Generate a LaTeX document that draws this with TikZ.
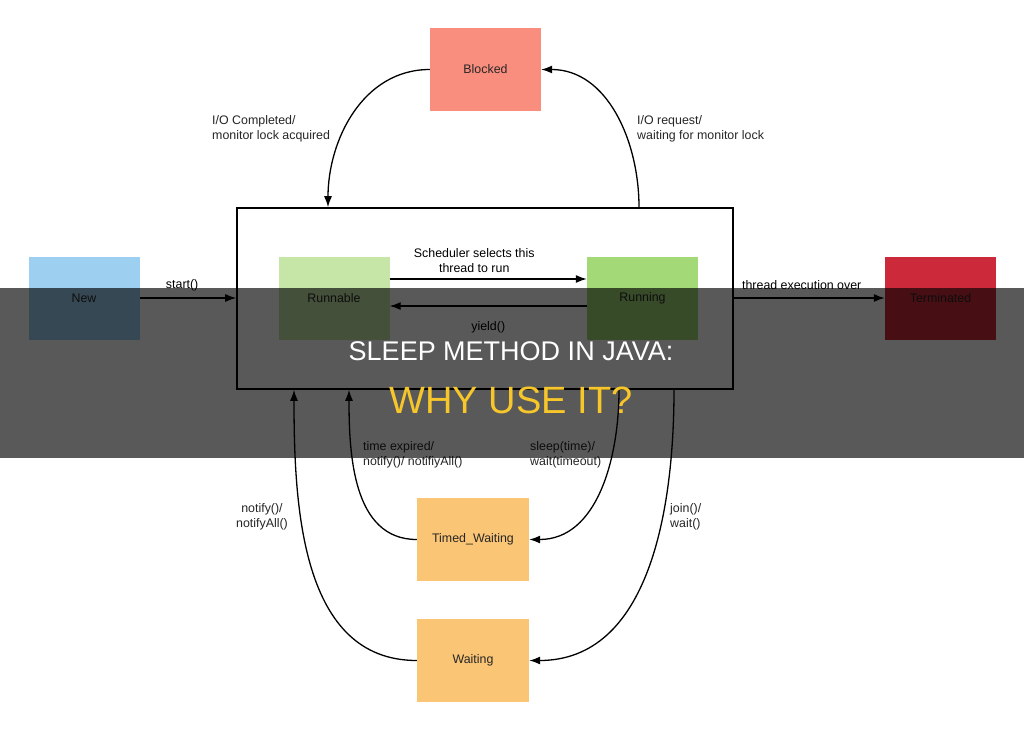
\documentclass[tikz,border=0pt]{standalone}
\usepackage{fontspec}
\setmainfont{Liberation Sans}
\usepackage{tikz}
\usetikzlibrary{shapes, arrows, arrows.meta, positioning}
\usepackage{xcolor}
\definecolor{newblue}{HTML}{9DD0F0}
\definecolor{runnablegreen}{HTML}{C6E6A8}
\definecolor{runninggreen}{HTML}{A3D977}
\definecolor{termred}{HTML}{CC2A3A}
\definecolor{blockedred}{HTML}{FA8E7E}
\definecolor{waitorange}{HTML}{FBC576}
\definecolor{titleyellow}{HTML}{F6C62B}

\begin{document}
\begin{tikzpicture}[x=1pt, y=1pt, font=\fontsize{12.4}{15}\selectfont,
        state/.style={minimum width=111pt, minimum height=83pt, inner sep=0pt, text=black!85},
        arr/.style={-{Latex[length=11pt, width=8pt]}, line width=1.3pt},
        lbl/.style={align=left, inner sep=0pt, text=black!85}]
        \fill[white] (0,0) rectangle (1024,-730);
        \useasboundingbox (0,0) rectangle (1024,-730);
        % states
        \node[state, fill=blockedred] (blocked) at (485.5,-69.5) {Blocked};
        \node[draw, line width=1.6pt, minimum width=496pt, minimum height=181pt] (alive) at (485,-298.5) {};
        \node[state, fill=newblue] (new) at (84,-298) {New};
        \node[state, fill=runnablegreen] (runnable) at (334,-298) {Runnable};
        \node[state, fill=runninggreen] (running) at (642.5,-298) {Running};
        \node[state, fill=termred] (term) at (940.5,-298) {Terminated};
        \node[state, fill=waitorange, minimum width=112pt] (timed) at (473,-539.5) {Timed\_Waiting};
        \node[state, fill=waitorange, minimum width=112pt] (waiting) at (473,-660.5) {Waiting};
        % ends of the curves on the big box
        \coordinate (topL) at ([xshift=-157pt]alive.north);
        \coordinate (topR) at ([xshift=154pt]alive.north);
        \coordinate (botA) at ([xshift=-191pt]alive.south);
        \coordinate (botB) at ([xshift=-136pt]alive.south);
        \coordinate (botC) at ([xshift=134pt]alive.south);
        \coordinate (botD) at ([xshift=189pt]alive.south);
        % straight transitions
        \draw[arr] (new.east) -- node[above=3pt, pos=0.44] {start()} (alive.west |- new.east);
        \draw[arr] (alive.east |- term.west) -- node[above=4pt, pos=0.45] {thread execution over} (term.west);
        \draw[arr] ([yshift=19pt]runnable.east) -- node[above=2pt, align=center, xshift=-14pt] {Scheduler selects this\\thread to run} ([yshift=19pt]running.west);
        \draw[arr] ([yshift=-8pt]running.west) -- node[below=12pt] {yield()} ([yshift=-8pt]runnable.east);
        % curved transitions
        \draw[arr] (blocked.west) to[out=180, in=90] (topL);
        \draw[arr] (topR) to[out=90, in=0] (blocked.east);
        \draw[arr] (timed.west) to[out=180, in=-90] (botB);
        \draw[arr] (botC) to[out=-90, in=0] (timed.east);
        \draw[arr] (waiting.west) to[out=180, in=-90] (botA);
        \draw[arr] (botD) to[out=-90, in=0] (waiting.east);
        \node[lbl, anchor=west] (iodone) at (212,-128.5) {I/O Completed/\\monitor lock acquired};
        \node[lbl, anchor=west] (ioreq) at (637,-128.5) {I/O request/\\waiting for monitor lock};
        \node[lbl, anchor=west] (expired) at (363,-454.5) {time expired/\\notify()/ notifiyAll()};
        \node[lbl, anchor=west] (sleep) at (530,-454.5) {sleep(time)/\\wait(timeout)};
        \node[lbl, align=center] (notify) at (262,-517) {notify()/\\notifyAll()};
        \node[lbl, anchor=west] (join) at (670,-517) {join()/\\wait()};
        % title band
        \fill[black, opacity=0.65] (0,-288) rectangle (1024,-458);
        \node[text=white, font=\fontsize{27}{30}\selectfont] (title) at (511,-351) {SLEEP METHOD IN JAVA:};
        \node[text=titleyellow, font=\fontsize{38}{40}\selectfont] (subtitle) at (511,-400) {WHY USE IT?};
    \end{tikzpicture}
\end{document}
